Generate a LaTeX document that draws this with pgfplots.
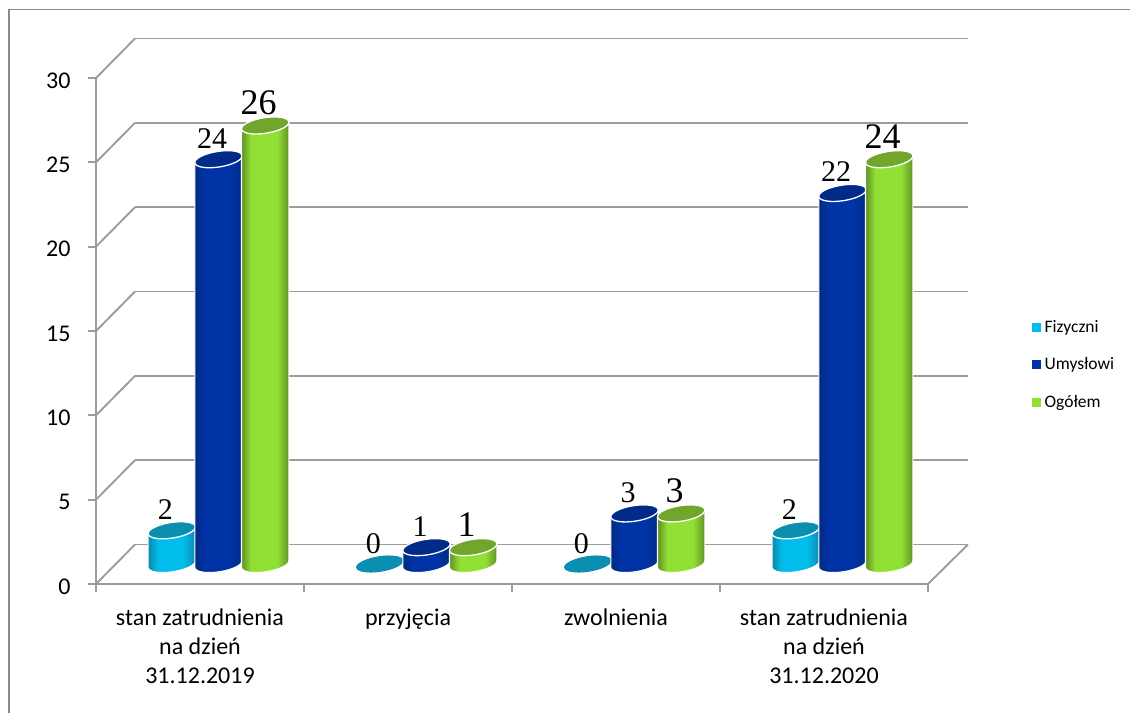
\documentclass[border=0pt]{standalone}
\usepackage{pgfplots}
\pgfplotsset{compat=1.18}
\usepackage{fontspec}
\setmainfont{Carlito}
\newfontfamily\numfont{Liberation Serif}
\definecolor{gridc}{HTML}{9C9C9C}
\definecolor{frm}{HTML}{8A8A8A}
\definecolor{cyE}{HTML}{0E86AC}\definecolor{cyM}{HTML}{00BDEB}\definecolor{cyT}{HTML}{0A8FB0}
\definecolor{blE}{HTML}{012A80}\definecolor{blM}{HTML}{0033A6}\definecolor{blT}{HTML}{012B88}
\definecolor{grE}{HTML}{5F8F26}\definecolor{grM}{HTML}{92DF36}\definecolor{grT}{HTML}{72A52B}
\pgfdeclarehorizontalshading{shC}{100bp}{color(0bp)=(cyE); color(25bp)=(cyE); color(35bp)=(cyM); color(62bp)=(cyM); color(75bp)=(cyE); color(100bp)=(cyE)}
\pgfdeclarehorizontalshading{shB}{100bp}{color(0bp)=(blE); color(25bp)=(blE); color(35bp)=(blM); color(62bp)=(blM); color(75bp)=(blE); color(100bp)=(blE)}
\pgfdeclarehorizontalshading{shG}{100bp}{color(0bp)=(grE); color(25bp)=(grE); color(35bp)=(grM); color(62bp)=(grM); color(75bp)=(grE); color(100bp)=(grE)}
% one cylinder: #1 shading, #2 colour of the top; \myv is the value of the point
\newcommand{\mycyl}[2]{%
  \pgfmathsetlengthmacro{\myh}{\myv*16.867}%
  \pgfmathsetlengthmacro{\lowL}{-3.7-\myh}%
  \ifdim\myh>0pt
    \pgfpathmoveto{\pgfpoint{-23.7pt}{\lowL}}%
    \pgfpatharcaxes{180}{360}{\pgfpoint{23.7pt}{3.7pt}}{\pgfpoint{-1.2pt}{7.7pt}}%
    \pgfpathlineto{\pgfpoint{23.7pt}{3.7pt}}%
    \pgfpathlineto{\pgfpoint{-23.7pt}{-3.7pt}}%
    \pgfpathclose
    \pgfshadepath{#1}{0}%
    \pgfusepath{discard}%
    \pgfsetlinewidth{1.1pt}%
    \pgfsetstrokecolor{white}%
    \pgfpathmoveto{\pgfpoint{-23.7pt}{\lowL}}%
    \pgfpatharcaxes{180}{360}{\pgfpoint{23.7pt}{3.7pt}}{\pgfpoint{-1.2pt}{7.7pt}}%
    \pgfpathlineto{\pgfpoint{23.7pt}{3.7pt}}%
    \pgfpathmoveto{\pgfpoint{-23.7pt}{\lowL}}%
    \pgfpathlineto{\pgfpoint{-23.7pt}{-3.7pt}}%
    \pgfusepath{stroke}%
    \pgfsetlinewidth{1.3pt}%
  \fi
  \pgfsetfillcolor{#2}%
  \pgfsetstrokecolor{white}%
  \pgfpathmoveto{\pgfpoint{23.7pt}{3.7pt}}%
  \pgfpatharcaxes{0}{360}{\pgfpoint{23.7pt}{3.7pt}}{\pgfpoint{-1.2pt}{7.7pt}}%
  \pgfpathclose
  \ifdim\myh>0pt \pgfusepath{fill,stroke}\else \pgfusepath{fill}\fi
}
\pgfdeclareplotmark{cylC}{\mycyl{shC}{cyT}}
\pgfdeclareplotmark{cylB}{\mycyl{shB}{blT}}
\pgfdeclareplotmark{cylG}{\mycyl{shG}{grT}}
\pgfplotstableread{
x y
-0.2245 2
0.7755 0
1.7755 0
2.7755 2
}\fizyczni
\pgfplotstableread{
x y
0 24
1 1
2 3
3 22
}\umyslowi
\pgfplotstableread{
x y
0.2245 26
1.2245 1
2.2245 3
3.2245 24
}\ogolem
\pgfplotsset{
  pxaxis/.style={scale only axis,width=832pt,height=506pt,anchor=south west,
    xmin=-0.5,xmax=3.5,ymin=0,ymax=30,clip=false},
  cylplot/.style={only marks,scatter,mark=#1,
    visualization depends on={rawy\as\myv},
  },
  lab/.style={only marks,mark=none,draw=none,nodes near coords,every node near coord/.append style={
    font=\numfont\fontsize{#1}{#1}\selectfont,text=black,anchor=base,inner sep=0pt,xshift=-6.5pt,yshift=11pt}},
}
\begin{document}
\begin{tikzpicture}[x=1pt,y=1pt]
\useasboundingbox (0,0) rectangle (1130,713);
\draw[frm,line width=1.6pt] (9,0) -- (9,703.5) -- (1130,703.5);
% back wall: grid lines
\begin{axis}[pxaxis,at={(135pt,168.5pt)},width=833pt,
  axis line style={draw=none},xtick=\empty,ytick={0,5,...,30},yticklabels={},
  major tick length=0pt,ymajorgrids,grid style={gridc,line width=1.9pt}]
\end{axis}
% front axes
\begin{axis}[pxaxis,at={(96pt,129pt)},
  axis x line*=bottom,axis y line*=left,
  axis line style={gridc,line width=1.9pt,-},
  xtick={0,1,2,3},minor xtick={-0.5,0.5,1.5,2.5,3.5},
  xticklabels={{stan zatrudnienia\\na dzień\\31.12.2019},{przyjęcia},{zwolnienia},{stan zatrudnienia\\na dzień\\31.12.2020}},
  ytick={0,5,...,30},
  tick align=outside,major tick length=8pt,minor tick length=8pt,
  x tick style={draw=none},minor x tick style={draw=gridc,line width=1.9pt},
  y tick style={gridc,line width=1.9pt},
  xticklabel style={align=center,font=\fontsize{24}{29}\selectfont,yshift=-13pt,anchor=north},
  yticklabel style={font=\fontsize{24}{24}\selectfont,/pgf/number format/assume math mode=true,xshift=-14pt,yshift=-2.5pt},
  legend style={at={(933pt,268pt)},anchor=north west,draw=none,fill=none,
    nodes={font=\fontsize{17.5}{20}\selectfont},row sep=20pt,column sep=2pt},
  legend cell align=left,
  legend image code/.code={\fill[#1] (0pt,-4pt) rectangle (8pt,4pt);},
  ]
\addlegendimage{cyM}\addlegendentry{Fizyczni}
\addlegendimage{blM}\addlegendentry{Umysłowi}
\addlegendimage{grM}\addlegendentry{Ogółem}
\foreach \v in {0,5,...,30}{
  \edef\tmp{\noexpand\draw[gridc,line width=1.9pt] (axis cs:-0.5,\v) -- ++(39pt,39.5pt);}\tmp}
\draw[gridc,line width=1.9pt] (axis cs:3.5,0) -- ++(40pt,39.5pt);
\end{axis}
% the cylinders
\begin{axis}[pxaxis,at={(114.5pt,149pt)},axis line style={draw=none},xtick=\empty,ytick=\empty,
  /pgf/number format/assume math mode=true]
\addplot[cylplot=cylC] table[x=x,y=y]{\fizyczni};
\addplot[cylplot=cylB] table[x=x,y=y]{\umyslowi};
\addplot[cylplot=cylG] table[x=x,y=y]{\ogolem};
\addplot[lab=30] table[x=x,y=y]{\fizyczni};
\addplot[lab=30] table[x=x,y=y]{\umyslowi};
\addplot[lab=36] table[x=x,y=y]{\ogolem};
\end{axis}
\end{tikzpicture}
\end{document}
